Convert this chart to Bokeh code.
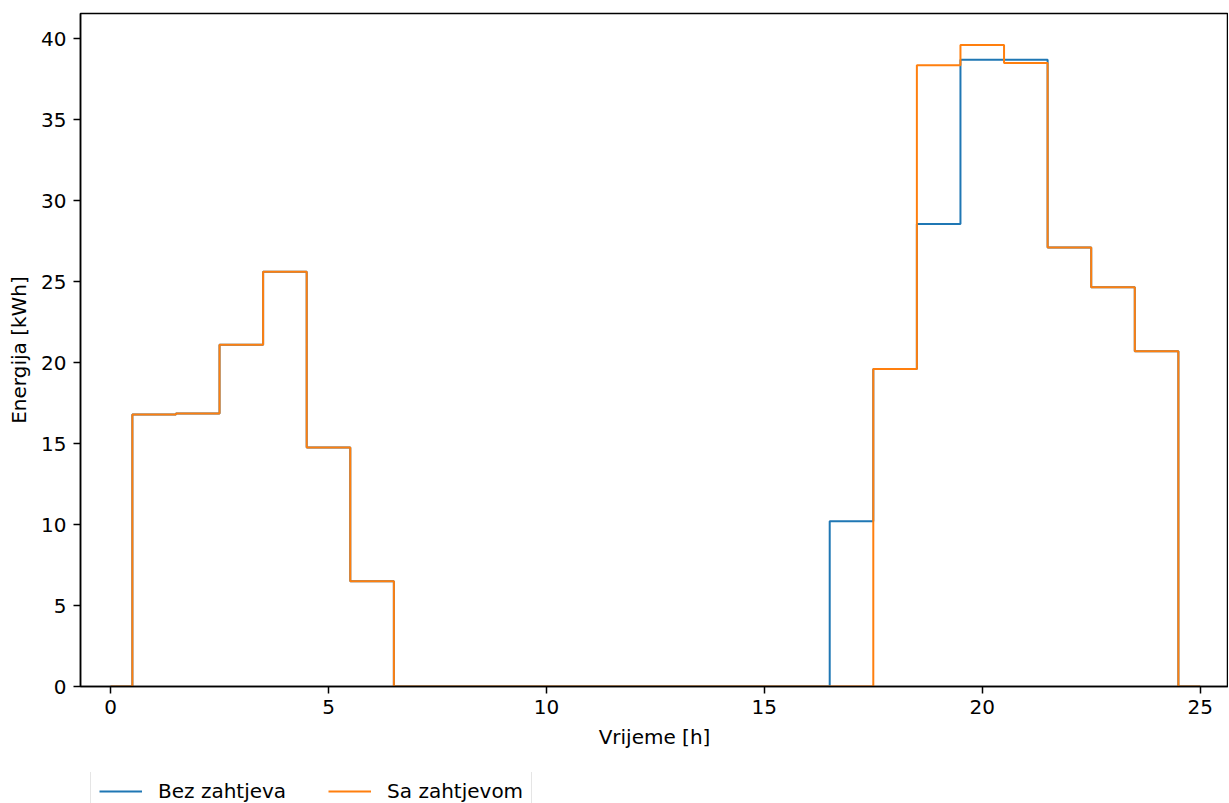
from bokeh.plotting import figure
from bokeh.layouts import column
from bokeh.models import Range1d, SingleIntervalTicker, Legend, LegendItem
from bokeh.embed import file_html
from bokeh.resources import INLINE

hours = list(range(26))
bez_zahtjeva = [0, 16.8, 16.85, 21.1, 25.6, 14.75, 6.5, 0, 0, 0, 0, 0, 0, 0, 0, 0, 0,
                10.2, 19.6, 28.55, 38.7, 38.7, 27.1, 24.65, 20.7, 0]
sa_zahtjevom = [0, 16.8, 16.85, 21.1, 25.6, 14.75, 6.5, 0, 0, 0, 0, 0, 0, 0, 0, 0, 0,
                0, 19.6, 38.35, 39.6, 38.5, 27.1, 24.65, 20.7, 0]
labels = ["Bez zahtjeva", "Sa zahtjevom"]
colors = ["#1f77b4", "#ff7f0e"]

FONT = "DejaVu Sans"
FS = "20px"

p = figure(frame_width=1148, frame_height=673, output_backend="svg", toolbar_location=None,
           x_range=Range1d(-0.69, 25.65), y_range=Range1d(0, 41.55),
           min_border_left=80, min_border_right=0, min_border_top=13, min_border_bottom=86)

p.step(hours, bez_zahtjeva, mode="center", line_color=colors[0], line_width=2)
p.step(hours, sa_zahtjevom, mode="center", line_color=colors[1], line_width=2)

p.xgrid.visible = False
p.ygrid.visible = False
p.outline_line_color = "black"
p.outline_line_width = 1.5
p.background_fill_color = "white"
p.border_fill_color = "white"

for ax in (p.xaxis[0], p.yaxis[0]):
    ax.ticker = SingleIntervalTicker(interval=5)
    ax.minor_tick_line_color = None
    ax.major_tick_in = 0
    ax.major_tick_out = 7
    ax.major_tick_line_width = 1.5
    ax.axis_line_width = 1.5
    ax.major_label_text_font = FONT
    ax.major_label_text_font_size = FS
    ax.major_label_text_color = "black"
    ax.axis_label_text_font = FONT
    ax.axis_label_text_font_size = FS
    ax.axis_label_text_font_style = "normal"
    ax.axis_label_text_color = "black"

p.xaxis.axis_label = "Vrijeme [h]"
p.yaxis.axis_label = "Energija [kWh]"
p.xaxis.major_label_standoff = 6
p.xaxis.axis_label_standoff = 8
p.yaxis.major_label_standoff = 7
p.yaxis.axis_label_standoff = 7

# legend strip below the chart (series drawn outside its visible range,
# only their legend samples show)
lg = figure(width=1228, height=31, output_backend="svg", toolbar_location=None,
            x_range=Range1d(100, 101), y_range=Range1d(100, 101),
            x_axis_type=None, y_axis_type=None,
            min_border_left=0, min_border_right=0, min_border_top=0, min_border_bottom=0)
lg.xgrid.visible = False
lg.ygrid.visible = False
lg.outline_line_color = None
l1 = lg.step(hours, bez_zahtjeva, mode="center", line_color=colors[0], line_width=2)
l2 = lg.step(hours, sa_zahtjevom, mode="center", line_color=colors[1], line_width=2)

legend = Legend(items=[LegendItem(label=labels[0], renderers=[l1]),
                       LegendItem(label=labels[1], renderers=[l2])],
                location=(10, -9), orientation="horizontal",
                glyph_width=43, glyph_height=18, label_height=18,
                label_standoff=16, spacing=42, padding=8, margin=0,
                label_text_font=FONT, label_text_font_size=FS,
                label_text_color="black",
                border_line_color="#cccccc", border_line_width=1.5,
                background_fill_color="white", background_fill_alpha=1.0)
lg.add_layout(legend, "center")

layout = column(p, lg, spacing=0)
open("out.html", "w").write(file_html(layout, INLINE))
